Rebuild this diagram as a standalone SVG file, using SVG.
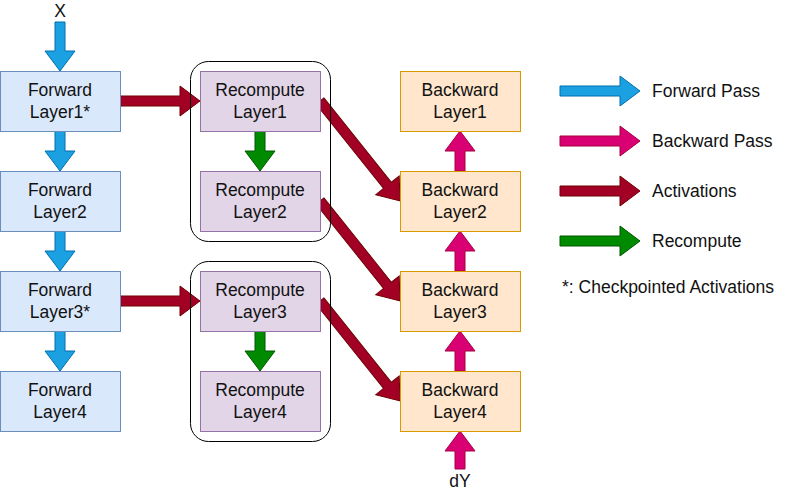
<svg xmlns="http://www.w3.org/2000/svg" width="811" height="492" viewBox="0 0 811 492">
<style>
text{font-family:"Liberation Sans",Arial,sans-serif;font-size:17.5px;fill:#111}
.c{text-anchor:middle}
.fw{fill:#dae8fc;stroke:#6c8ebf}
.rc{fill:#e1d5e7;stroke:#9673a6}
.bw{fill:#ffe6cc;stroke:#d79b00}
.grp{fill:none;stroke:#000}
.ab{fill:#1ba1e2;stroke:#006eaf}
.ap{fill:#d80073;stroke:#a50040}
.ar{fill:#a20025;stroke:#6f0000}
.ag{fill:#008a00;stroke:#005700}
</style>
<defs>
<polygon id="diag" points="0,-5 108,-5 108,-15 128,0 108,15 108,5 0,5"/>
<polygon id="leg" points="0,-5 60,-5 60,-15 80,0 60,15 60,5 0,5"/>
</defs>
<g id="connectors">
<polygon class="ab" points="55,22 65,22 65,51 75,51 60,71 45,51 55,51"/>
<polygon class="ab" points="55,131 65,131 65,151 75,151 60,171 45,151 55,151"/>
<polygon class="ab" points="55,231 65,231 65,251 75,251 60,271 45,251 55,251"/>
<polygon class="ab" points="55,331 65,331 65,351 75,351 60,371 45,351 55,351"/>
<polygon class="ar" points="120,96 180,96 180,86 200,101 180,116 180,106 120,106"/>
<polygon class="ar" points="120,296 180,296 180,286 200,301 180,316 180,306 120,306"/>
<polygon class="ag" points="255,131 265,131 265,151 275,151 260,171 245,151 255,151"/>
<polygon class="ag" points="255,331 265,331 265,351 275,351 260,371 245,351 255,351"/>
<use href="#diag" class="ar" transform="translate(320,101) rotate(51.34)"/>
<use href="#diag" class="ar" transform="translate(320,201) rotate(51.34)"/>
<use href="#diag" class="ar" transform="translate(320,301) rotate(51.34)"/>
<polygon class="ap" points="455,171 465,171 465,151 475,151 460,131 445,151 455,151"/>
<polygon class="ap" points="455,271 465,271 465,251 475,251 460,231 445,251 455,251"/>
<polygon class="ap" points="455,371 465,371 465,351 475,351 460,331 445,351 455,351"/>
<polygon class="ap" points="455,469 465,469 465,451 475,451 460,431 445,451 455,451"/>
</g>
<g id="groups">
<rect id="group1" class="grp" x="190.5" y="61.5" width="140" height="180" rx="18"/>
<rect id="group2" class="grp" x="190.5" y="261.5" width="140" height="180" rx="18"/>
</g>
<g id="fwd1"><rect class="fw" x="0.5" y="71.5" width="120" height="60"/><text class="c" x="60" y="96">Forward</text><text class="c" x="60" y="118">Layer1*</text></g>
<g id="fwd2"><rect class="fw" x="0.5" y="171.5" width="120" height="60"/><text class="c" x="60" y="196">Forward</text><text class="c" x="60" y="218">Layer2</text></g>
<g id="fwd3"><rect class="fw" x="0.5" y="271.5" width="120" height="60"/><text class="c" x="60" y="296">Forward</text><text class="c" x="60" y="318">Layer3*</text></g>
<g id="fwd4"><rect class="fw" x="0.5" y="371.5" width="120" height="60"/><text class="c" x="60" y="396">Forward</text><text class="c" x="60" y="418">Layer4</text></g>
<g id="rec1"><rect class="rc" x="200.5" y="71.5" width="120" height="60"/><text class="c" x="260" y="96">Recompute</text><text class="c" x="260" y="118">Layer1</text></g>
<g id="rec2"><rect class="rc" x="200.5" y="171.5" width="120" height="60"/><text class="c" x="260" y="196">Recompute</text><text class="c" x="260" y="218">Layer2</text></g>
<g id="rec3"><rect class="rc" x="200.5" y="271.5" width="120" height="60"/><text class="c" x="260" y="296">Recompute</text><text class="c" x="260" y="318">Layer3</text></g>
<g id="rec4"><rect class="rc" x="200.5" y="371.5" width="120" height="60"/><text class="c" x="260" y="396">Recompute</text><text class="c" x="260" y="418">Layer4</text></g>
<g id="bwd1"><rect class="bw" x="400.5" y="71.5" width="120" height="60"/><text class="c" x="460" y="96">Backward</text><text class="c" x="460" y="118">Layer1</text></g>
<g id="bwd2"><rect class="bw" x="400.5" y="171.5" width="120" height="60"/><text class="c" x="460" y="196">Backward</text><text class="c" x="460" y="218">Layer2</text></g>
<g id="bwd3"><rect class="bw" x="400.5" y="271.5" width="120" height="60"/><text class="c" x="460" y="296">Backward</text><text class="c" x="460" y="318">Layer3</text></g>
<g id="bwd4"><rect class="bw" x="400.5" y="371.5" width="120" height="60"/><text class="c" x="460" y="396">Backward</text><text class="c" x="460" y="418">Layer4</text></g>
<g id="inputX"><text class="c" x="60" y="17">X</text></g>
<g id="inputdY"><text class="c" x="460" y="487">dY</text></g>
<g id="legend">
<use href="#leg" class="ab" transform="translate(560,91)"/>
<use href="#leg" class="ap" transform="translate(560,141)"/>
<use href="#leg" class="ar" transform="translate(560,191)"/>
<use href="#leg" class="ag" transform="translate(560,241)"/>
<text x="652" y="97">Forward Pass</text>
<text x="652" y="147">Backward Pass</text>
<text x="652" y="197">Activations</text>
<text x="652" y="247">Recompute</text>
<text x="562" y="293">*: Checkpointed Activations</text>
</g>
</svg>
